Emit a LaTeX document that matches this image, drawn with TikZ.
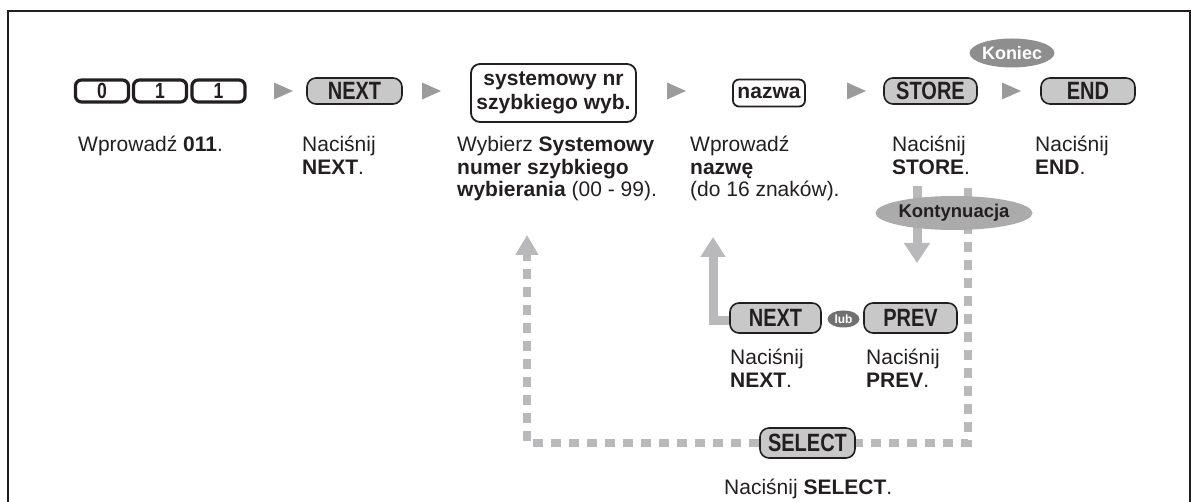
\documentclass[tikz,border=0pt]{standalone}
\usepackage{fontspec}
\setmainfont{Liberation Sans}
\newfontfamily\keyfont[FakeStretch=0.8]{Liberation Sans}
\usetikzlibrary{arrows.meta,shapes.geometric,backgrounds}
\definecolor{ink}{HTML}{231F20}
\definecolor{keygrey}{HTML}{C8C8C8}
\definecolor{trigrey}{HTML}{9B9B9B}
\definecolor{flowgrey}{HTML}{B9B9BB}
\definecolor{konGrey}{HTML}{8E8E8E}
\definecolor{contGrey}{HTML}{ABABAB}
\definecolor{lubGrey}{HTML}{707070}
\newcommand{\txtcol}[1]{\begin{tabular}[t]{@{}l@{}}#1\end{tabular}}
\begin{document}
\begin{tikzpicture}[x=1pt,y=-1pt,
  digitkey/.style={draw=ink, line width=3.2pt, fill=white, rounded corners=6pt, minimum width=53pt, minimum height=22pt, inner sep=0pt, font=\keyfont\bfseries\fontsize{22}{22}\selectfont, text=ink},
  softkey/.style={draw=ink, line width=1.6pt, fill=keygrey, rounded corners=9pt, minimum height=26pt, inner sep=0pt, font=\keyfont\bfseries\fontsize{25}{25}\selectfont, text=ink},
  entrybox/.style={draw=ink, line width=1.8pt, fill=white, rounded corners=9pt, inner sep=0pt, align=center, font=\bfseries\fontsize{21}{24}\selectfont, text=ink},
  steplabel/.style={anchor=base west, inner sep=0pt, font=\fontsize{21}{22.5}\selectfont, text=ink},
  tag/.style={ellipse, inner sep=0pt, font=\bfseries\fontsize{18}{18}\selectfont},
  flow/.style={draw=flowgrey, line width=9pt, line join=miter},
  dashflow/.style={draw=flowgrey, line width=8pt, dash pattern=on 10pt off 8pt},
  sep/.style={fill=trigrey}
]
\useasboundingbox (0,0) rectangle (1191,502);
% frame
\draw[ink, line width=2pt] (8,512) -- (8,11) -- (1189.5,11) -- (1189.5,512);

% top row
\node[digitkey] (k0) at (102,91) {0};
\node[digitkey] (k1) at (160,91) {1};
\node[digitkey] (k2) at (218.5,91) {1};
\node[softkey, minimum width=95pt] (next) at (354.5,91) {NEXT};
\node[entrybox, minimum width=165pt, minimum height=58pt] (sysnr) at (553.5,93) {systemowy nr\\szybkiego wyb.};
\node[entrybox, minimum width=72pt, minimum height=27pt, rounded corners=6pt] (nazwa) at (769,93) {nazwa};
\node[softkey, minimum width=93pt] (store) at (930.5,91) {STORE};
\node[softkey, minimum width=94pt] (endk) at (1088,91) {END};
\node[tag, fill=konGrey, text=white, minimum width=82pt, minimum height=29pt] (koniec) at (1012,53) {Koniec};

% separators
\foreach \n/\x in {t1/283,t2/431,t3/676,t4/856,t5/1011}{
  \coordinate (\n) at (\x,91);
  \fill[sep] (\n) ++(-9,-8.5) -- ++(19,8.5) -- ++(-19,8.5) -- cycle;
}

% labels
\node[steplabel] (l1) at (78,152) {Wprowadź \textbf{011}.};
\node[steplabel] (l2) at (302,152) {\txtcol{Naciśnij\\\textbf{NEXT}.}};
\node[steplabel] (l3) at (457,152) {\txtcol{Wybierz \textbf{Systemowy}\\\textbf{numer szybkiego}\\\textbf{wybierania} (00 - 99).}};
\node[steplabel] (l4) at (690,152) {\txtcol{Wprowadź\\\textbf{nazwę}\\(do 16 znaków).}};
\node[steplabel] (l5) at (892,152) {\txtcol{Naciśnij\\\textbf{STORE}.}};
\node[steplabel] (l6) at (1035,152) {\txtcol{Naciśnij\\\textbf{END}.}};

% lower part
\node[tag, fill=contGrey, text=ink, minimum width=134pt, minimum height=34pt, font=\bfseries\fontsize{18.5}{18.5}\selectfont] (kont) at (954,213) {Kontynuacja};
\node[softkey, minimum width=91pt, minimum height=30pt] (next2) at (775.5,318) {NEXT};
\node[tag, fill=lubGrey, text=white, minimum width=32pt, minimum height=17pt, font=\bfseries\fontsize{12}{12}\selectfont] (lub) at (843.5,319) {lub};
\node[softkey, minimum width=93pt, minimum height=30pt] (prev) at (910.5,318) {PREV};
\node[steplabel] (l7) at (730,365) {\txtcol{Naciśnij\\\textbf{NEXT}.}};
\node[steplabel] (l8) at (866,365) {\txtcol{Naciśnij\\\textbf{PREV}.}};
\node[softkey, minimum width=95pt, minimum height=30pt] (select) at (807.5,443) {SELECT};
\node[steplabel] (l9) at (724,494) {Naciśnij \textbf{SELECT}.};

\coordinate (contTop) at (917,186);
\coordinate (contTip) at (917,263);
\coordinate (nazCorner) at (713,321);
\coordinate (nazTip) at (713,237);
\coordinate (loopTR) at (968,188);
\coordinate (loopBR) at (968,443);
\coordinate (loopBL) at (527,443);
\coordinate (loopTip) at (527,235);

\begin{pgfonlayer}{background}
\draw[flow, -{Triangle[width=25pt,length=20pt]}] (contTop) -- (contTip);
\draw[flow, -{Triangle[width=24pt,length=20pt]}] (next2.west |- nazCorner) -- (nazCorner) -- (nazTip);
\draw[dashflow] (loopTR) -- (loopBR) -- (select.east);
\draw[dashflow, -{Triangle[width=22pt,length=20pt]}] (select.west) -- (loopBL) -- (loopTip);
\end{pgfonlayer}
\end{tikzpicture}
\end{document}
